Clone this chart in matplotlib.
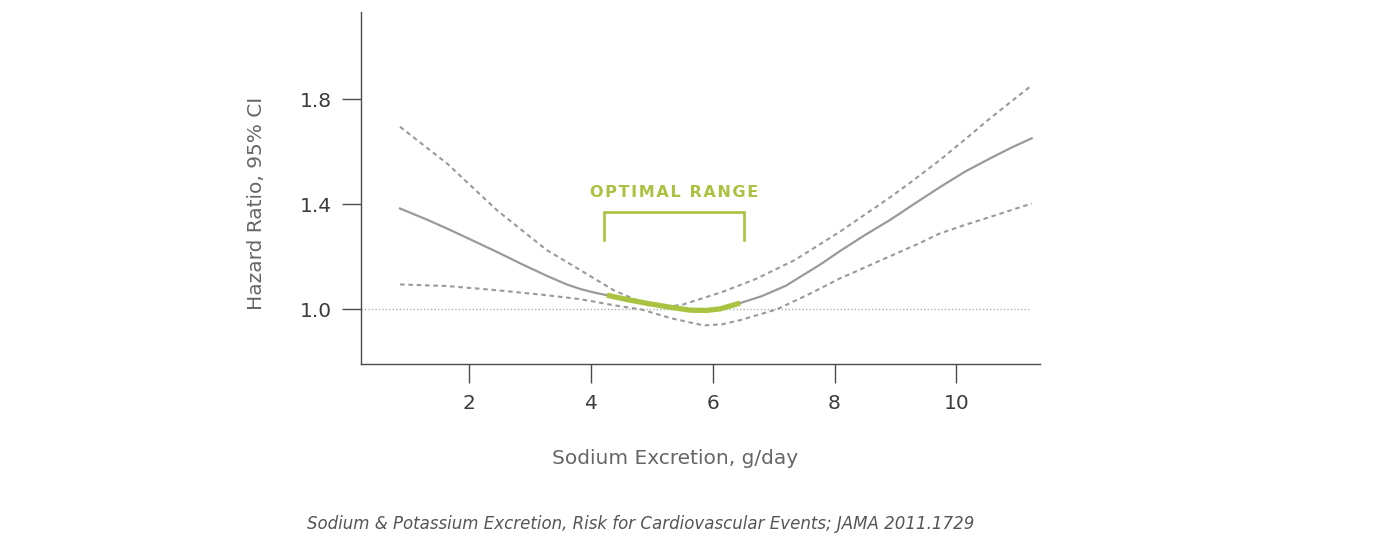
import numpy as np
import matplotlib.pyplot as plt

# ----------------------------------------------------------------------
# data
# ----------------------------------------------------------------------
sodium_hr = [0.86, 1.3, 1.63, 2.0, 2.45, 2.9, 3.27, 3.6, 3.82, 4.05, 4.26,
             4.6, 4.92, 5.3, 5.63, 5.9, 6.12, 6.45, 6.8, 7.2, 7.76, 8.09,
             8.5, 8.91, 9.3, 9.73, 10.15, 10.56, 10.9, 11.24]
hr = [1.384, 1.342, 1.308, 1.268, 1.219, 1.168, 1.128, 1.095, 1.078, 1.064,
      1.054, 1.037, 1.023, 1.008, 0.997, 0.996, 1.002, 1.024, 1.050, 1.090,
      1.170, 1.222, 1.283, 1.340, 1.400, 1.465, 1.525, 1.575, 1.615, 1.651]

sodium_up = [0.86, 1.63, 2.45, 3.27, 3.82, 4.37, 4.65, 4.9, 5.2, 5.5, 5.8,
             6.15, 6.7, 7.34, 7.79, 8.09, 8.91, 9.27, 9.73, 10.15, 10.56,
             11.21]
hr_upper = [1.695, 1.556, 1.378, 1.226, 1.150, 1.073, 1.045, 1.022, 1.008,
            1.018, 1.040, 1.066, 1.115, 1.187, 1.252, 1.296, 1.426, 1.487,
            1.568, 1.648, 1.728, 1.847]

sodium_lo = [0.86, 1.63, 2.45, 3.27, 3.82, 4.37, 4.82, 5.32, 5.85, 6.15,
             6.45, 7.05, 7.6, 8.09, 8.31, 8.77, 9.38, 9.73, 10.15, 10.56,
             11.24]
hr_lower = [1.095, 1.089, 1.073, 1.054, 1.039, 1.016, 1.000, 0.966, 0.939,
            0.943, 0.959, 1.000, 1.060, 1.118, 1.140, 1.188, 1.250, 1.289,
            1.322, 1.352, 1.403]

OPT_LO, OPT_HI = 4.21, 6.52          # optimal range (bracket)
BRACKET_TOP, BRACKET_BOTTOM = 1.369, 1.266
REF_HR, REF_X_END = 1.0, 11.2

x_ticks = [2, 4, 6, 8, 10]
y_ticks = [1.0, 1.4, 1.8]
y_ticklabels = ["1.0", "1.4", "1.8"]

CAPTION = ("Sodium & Potassium Excretion, Risk for Cardiovascular Events; "
           "JAMA 2011.1729")

# ----------------------------------------------------------------------
# style
# ----------------------------------------------------------------------
GRAU = "#9a9a9a"
GRUEN = "#a9c23f"
ACHSE = "#4a4a4a"
plt.rcParams["font.family"] = ["DejaVu Sans"]

fig = plt.figure(figsize=(13.94, 5.47), dpi=100)
ax = fig.add_axes([0.2588, 0.334, 0.4874, 0.6446])
ax.set_xlim(0.215, 11.38)
ax.set_ylim(0.791, 2.133)

# reference line
ax.hlines(REF_HR, 0.215, REF_X_END, colors="#b0b0b0", lw=1.0,
          linestyles=(0, (1, 1.5)), zorder=1)

# confidence bands
ax.plot(sodium_up, hr_upper, color=GRAU, lw=1.5, dashes=(2.2, 1.8), zorder=2)
ax.plot(sodium_lo, hr_lower, color=GRAU, lw=1.5, dashes=(2.2, 1.8), zorder=2)

# hazard ratio
ax.plot(sodium_hr, hr, color=GRAU, lw=1.6, zorder=3)
xs = np.array(sodium_hr)
ys = np.array(hr)
m = (xs >= OPT_LO) & (xs <= OPT_HI)
ax.plot(xs[m], ys[m], color=GRUEN, lw=3.8, solid_capstyle="butt", zorder=4)

# optimal range bracket
ax.plot([OPT_LO, OPT_LO, OPT_HI, OPT_HI],
        [BRACKET_BOTTOM, BRACKET_TOP, BRACKET_TOP, BRACKET_BOTTOM],
        color=GRUEN, lw=1.9, solid_joinstyle="miter", zorder=4)
ax.text((OPT_LO + OPT_HI) / 2, 1.4445, "\u200a".join("OPTIMAL RANGE"),
        color=GRUEN, fontsize=11.5, fontweight="bold", ha="center",
        va="center")

# axes
for s in ["top", "right"]:
    ax.spines[s].set_visible(False)
for s in ["left", "bottom"]:
    ax.spines[s].set_color(ACHSE)
    ax.spines[s].set_linewidth(1.0)
ax.tick_params(direction="out", length=13.7, width=1.0, color=ACHSE,
               labelcolor="#3c3c3c", labelsize=14.5)
ax.tick_params(axis="x", pad=8)
ax.tick_params(axis="y", pad=7)
ax.set_xticks(x_ticks)
ax.set_yticks(y_ticks)
ax.set_yticklabels(y_ticklabels)

ax.set_xlabel("Sodium Excretion, g/day", fontsize=14.5, color="#666666")
ax.xaxis.set_label_coords(0.463, -0.266)
ax.xaxis.label.set_va("center")
ax.set_ylabel("Hazard Ratio, 95% CI", fontsize=14.5, color="#666666")
ax.yaxis.set_label_coords(-0.154, 0.457)
ax.yaxis.label.set_va("center")

fig.text(641 / 1394, 1 - 524 / 547, CAPTION, fontsize=12, style="italic",
         color="#555555", ha="center", va="center")

fig.savefig("out.png", dpi=100)
